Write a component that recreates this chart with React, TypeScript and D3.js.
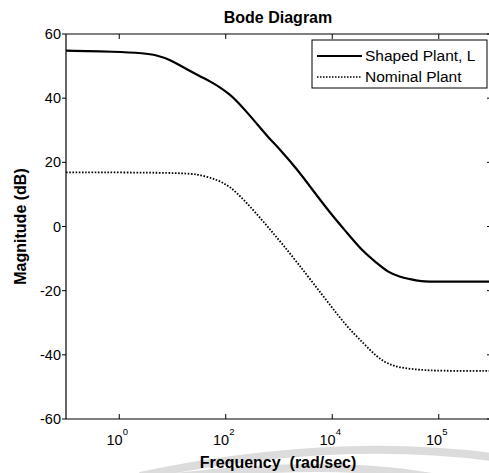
import React from "react";
import * as d3 from "d3";

const shapedFreq = [0.1, 0.87, 2.95, 4.9, 9.3, 14.5, 22.4, 33.9, 52.5, 79.4, 123, 166, 257, 363, 617, 1072, 2239, 3890, 9120, 19050, 38020, 69180, 109600, 186200, 288400, 436500, 1e6, 1e7];
const shapedMag = [54.8, 54.5, 54.0, 53.5, 51.9, 50.0, 48.3, 46.7, 45.1, 43.3, 41.0, 38.9, 35.4, 32.5, 27.9, 23.8, 17.6, 12.3, 4.2, -2.0, -7.9, -11.4, -14.2, -15.7, -16.4, -17.1, -17.2, -17.2];

const nominalFreq = [0.1, 16.2, 33.9, 70.8, 123, 219, 398, 692, 1202, 2239, 4365, 9120, 19050, 38020, 69180, 120200, 213800, 436500, 1e6, 1e7];
const nominalMag = [16.9, 16.8, 16.1, 14.5, 12.4, 8.3, 3.6, -1.1, -5.8, -11.4, -17.6, -24.5, -31.3, -36.3, -40.7, -43.2, -44.1, -44.7, -45.0, -45.0];

const xTickValues = [1, 100, 1e4, 1e6];
const xTickExponents = ["0", "2", "4", "5"];
const yTickValues = [-60, -40, -20, 0, 20, 40, 60];
const legendLabels = ["Shaped Plant, L", "Nominal Plant"];

const W = 489;
const H = 473;
const L = 66, R = 492, T = 34, B = 419;
const FONT = "'Liberation Sans', Arial, Helvetica, sans-serif";

export default function App() {
  const x = d3.scaleLog().domain([0.1, 1e7]).range([L, R]);
  const y = d3.scaleLinear().domain([-60, 60]).range([B, T]);
  const line = d3
    .line<[number, number]>()
    .x((d) => x(d[0]))
    .y((d) => y(d[1]))
    .curve(d3.curveBasis);
  const shaped = line(shapedFreq.map((f, i) => [f, shapedMag[i]] as [number, number])) || "";
  const nominal = line(nominalFreq.map((f, i) => [f, nominalMag[i]] as [number, number])) || "";

  return (
    <svg
      width={W}
      height={H}
      style={{ position: "fixed", left: 0, top: 0, background: "#fff" }}
      fontFamily={FONT}
    >
      <rect x={0} y={0} width={W} height={H} fill="#fff" />
      {/* faint scan watermark arcs */}
      <g fill="none" stroke="#dcdcdc" strokeWidth={8}>
        <path d="M 140 476 Q 330 436 492 457" />
        <path d="M 175 477 Q 330 459 432 477" />
      </g>
      {/* frame */}
      <g stroke="#000" strokeWidth={1.2} fill="none">
        <line x1={L} y1={T} x2={R} y2={T} />
        <line x1={L} y1={B} x2={R} y2={B} />
        <line x1={L} y1={T} x2={L} y2={B} />
        <line x1={R} y1={T} x2={R} y2={B} />
      </g>
      {/* x ticks */}
      {xTickValues.map((v, i) => (
        <g key={"xt" + i}>
          <line x1={x(v)} x2={x(v)} y1={B} y2={B - 5} stroke="#000" />
          <line x1={x(v)} x2={x(v)} y1={T} y2={T + 5} stroke="#000" />
          <text x={x(v) - 2} y={445} fontSize={14.5} textAnchor="middle" fill="#000">
            10
            <tspan dy={-10} fontSize={9.5}>{xTickExponents[i]}</tspan>
          </text>
        </g>
      ))}
      {/* y ticks */}
      {yTickValues.map((v, i) => (
        <g key={"yt" + i}>
          <line x1={L - 4} x2={L} y1={y(v)} y2={y(v)} stroke="#000" />
          <line x1={R - 5} x2={R} y1={y(v)} y2={y(v)} stroke="#000" />
          <text x={L - 5} y={y(v) + 5} fontSize={14.5} textAnchor="end" fill="#000">
            {v}
          </text>
        </g>
      ))}
      {/* curves */}
      <path d={shaped} fill="none" stroke="#000" strokeWidth={2.2} />
      <path d={nominal} fill="none" stroke="#000" strokeWidth={1.8} strokeDasharray="1.6,1.6" />
      {/* legend */}
      <rect x={312} y={40} width={175} height={48} fill="#fff" stroke="#000" strokeWidth={1} />
      <line x1={317} x2={362} y1={56} y2={56} stroke="#000" strokeWidth={2} />
      <line x1={317} x2={362} y1={77} y2={77} stroke="#000" strokeWidth={1.5} strokeDasharray="1.5,1.5" />
      <text x={365} y={61} fontSize={15.5} fill="#000">{legendLabels[0]}</text>
      <text x={365} y={82} fontSize={15.5} fill="#000">{legendLabels[1]}</text>
      {/* titles */}
      <text x={278} y={23} fontSize={16} fontWeight="bold" textAnchor="middle" fill="#000">
        Bode Diagram
      </text>
      <text x={278} y={468} fontSize={16} fontWeight="bold" textAnchor="middle" fill="#000" style={{ whiteSpace: "pre" }}>
        {"Frequency  (rad/sec)"}
      </text>
      <text
        transform={`translate(26, ${(T + B) / 2}) rotate(-90)`}
        fontSize={16}
        fontWeight="bold"
        textAnchor="middle"
        fill="#000"
      >
        Magnitude (dB)
      </text>
    </svg>
  );
}
